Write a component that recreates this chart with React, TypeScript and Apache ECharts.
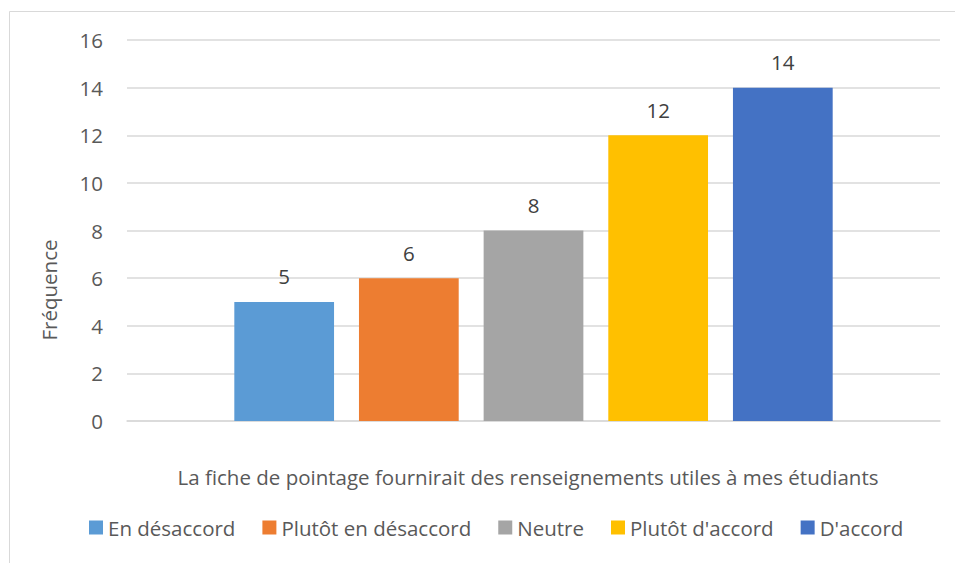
import React, { useEffect, useRef } from "react";
import * as echarts from "echarts";

const categories = [""];
const seriesNames = ["En désaccord", "Plutôt en désaccord", "Neutre", "Plutôt d'accord", "D'accord"];
const seriesValues = [5, 6, 8, 12, 14];
const seriesColors = ["#5B9BD5", "#ED7D31", "#A5A5A5", "#FFC000", "#4472C4"];
const xTitle = "La fiche de pointage fournirait des renseignements utiles à mes étudiants";
const yTitle = "Fréquence";

const FONT = "'Open Sans', 'Noto Sans', sans-serif";
const FS = 20.5;

export default function App() {
  const ref = useRef<HTMLDivElement>(null);
  useEffect(() => {
    const chart = echarts.init(ref.current!, null, { renderer: "svg" });
    chart.setOption({
      animation: false,
      backgroundColor: "#fff",
      textStyle: { fontFamily: FONT },
      grid: { left: 127, right: 15, top: 40, bottom: 142 },
      graphic: [
        {
          type: "rect",
          shape: { x: 9.5, y: 11.5, width: 1000, height: 600 },
          style: { fill: "none", stroke: "#d9d9d9", lineWidth: 1 },
          silent: true,
        },
        {
          type: "text",
          x: 49,
          y: 290,
          rotation: Math.PI / 2,
          style: {
            text: yTitle,
            fill: "#595959",
            font: `${FS}px ${FONT}`,
            align: "center",
            verticalAlign: "middle",
          },
        },
        {
          type: "text",
          x: 528,
          y: 477,
          style: {
            text: xTitle,
            fill: "#595959",
            font: `${FS}px ${FONT}`,
            align: "center",
            verticalAlign: "middle",
          },
        },
      ],
      legend: {
        top: 512,
        left: 84,
        icon: "rect",
        itemWidth: 14,
        itemHeight: 14,
        itemGap: 27,
        textStyle: { fontSize: FS, color: "#595959", fontFamily: FONT },
        data: seriesNames,
      },
      xAxis: {
        type: "category",
        data: categories,
        axisTick: { show: false },
        axisLabel: { show: false },
        axisLine: { lineStyle: { color: "#d9d9d9", width: 1.5 } },
      },
      yAxis: {
        type: "value",
        min: 0,
        max: 16,
        interval: 2,
        axisLine: { show: false },
        axisTick: { show: false },
        axisLabel: { fontSize: FS, color: "#595959", margin: 24, fontFamily: FONT },
        splitLine: { lineStyle: { color: "#d9d9d9", width: 1.5 } },
      },
      series: seriesNames.map((name, i) => ({
        name,
        type: "bar",
        data: [seriesValues[i]],
        itemStyle: { color: seriesColors[i] },
        barGap: "25%",
        barCategoryGap: "26.4%",
        label: {
          show: true,
          position: "top",
          distance: 15,
          fontSize: FS,
          color: "#404040",
          fontFamily: FONT,
        },
      })),
    });
    return () => chart.dispose();
  }, []);
  return (
    <div
      ref={ref}
      style={{ position: "fixed", left: 0, top: 0, width: 955, height: 563 }}
    />
  );
}
